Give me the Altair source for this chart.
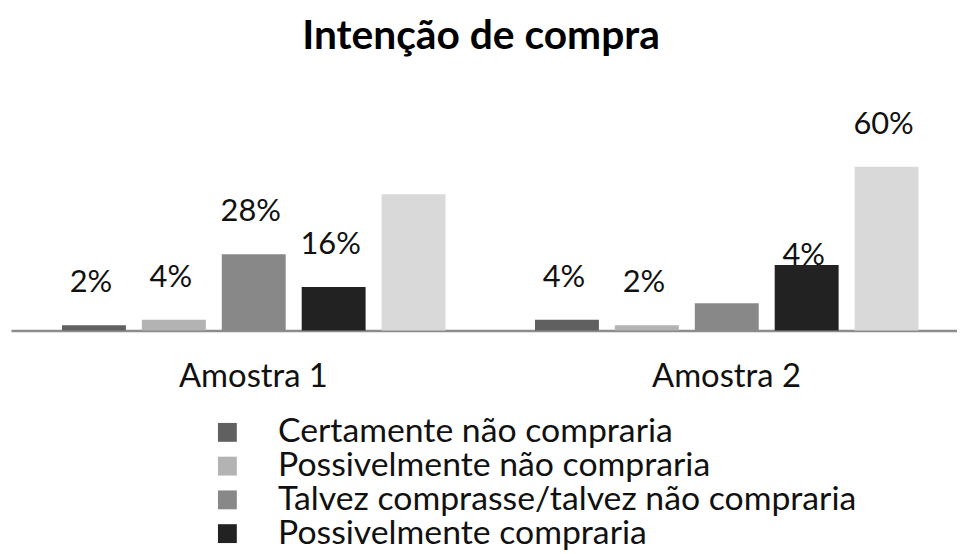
import altair as alt
import pandas as pd

# ---- data ----
samples = ["Amostra 1", "Amostra 2"]
series = [
    "Certamente não compraria",
    "Possivelmente não compraria",
    "Talvez comprasse/talvez não compraria",
    "Possivelmente compraria",
    "Certamente compraria",
]
values_a1 = [2, 4, 28, 16, 50]
values_a2 = [4, 2, 10, 24, 60]
labels_a1 = ["2%", "4%", "28%", "16%", ""]
labels_a2 = ["4%", "2%", "", "4%", "60%"]
legend_shown = series[:4]

# ---- styling ----
colors = ["#606060", "#b3b3b3", "#888888", "#222222", "#d9d9d9"]
FONT = "Lato"
INLINE_LABEL = ("Amostra 2", "Possivelmente compraria")  # label sits on the bar top

rows = []
for s, vals, labs in [(samples[0], values_a1, labels_a1), (samples[1], values_a2, labels_a2)]:
    for ser, v, lab in zip(series, vals, labs):
        rows.append({"amostra": s, "serie": ser, "valor": v, "rotulo": lab})
df = pd.DataFrame(rows)

x_enc = alt.X(
    "amostra:N",
    sort=samples,
    scale=alt.Scale(paddingInner=0, paddingOuter=0),
    axis=alt.Axis(
        title=None, ticks=False, tickSize=0, labelAngle=0,
        labelFont=FONT, labelFontSize=33, labelColor="#111111",
        labelBaseline="alphabetic", labelPadding=56, labelOffset=6,
        domainColor="#8c8c8c", domainWidth=2.5,
    ),
)
xoff_enc = alt.XOffset(
    "serie:N", sort=series,
    scale=alt.Scale(paddingInner=0.2, paddingOuter=0.56, align=0.57),
)
y_enc = alt.Y("valor:Q", scale=alt.Scale(domain=[0, 70]), axis=None)

base = alt.Chart(df)

bars = base.mark_bar().encode(
    x=x_enc,
    xOffset=xoff_enc,
    y=y_enc,
    color=alt.Color(
        "serie:N", sort=series,
        scale=alt.Scale(domain=series, range=colors),
        legend=alt.Legend(
            values=legend_shown, title=None, orient="none",
            legendX=201, legendY=278, direction="vertical",
            symbolType="square", symbolSize=361, symbolStrokeWidth=0,
            labelFont=FONT, labelFontSize=34, labelColor="#111111",
            labelOffset=34, rowPadding=-1, padding=0,
            labelLimit=800,
        ),
    ),
)

cond = (alt.datum.amostra == INLINE_LABEL[0]) & (alt.datum.serie == INLINE_LABEL[1])

text_above = base.mark_text(
    dy=-33, dx=-3, baseline="alphabetic", font=FONT, fontSize=31, color="#111111"
).encode(x=x_enc, xOffset=xoff_enc, y=y_enc, text="rotulo:N").transform_filter(~cond)

text_inline = base.mark_text(
    dy=0, dx=-3, baseline="alphabetic", font=FONT, fontSize=31, color="#111111"
).encode(x=x_enc, xOffset=xoff_enc, y=y_enc, text="rotulo:N").transform_filter(cond)

chart = (
    alt.layer(bars, text_above, text_inline)
    .properties(
        width=953,
        height=192.5,
        title=alt.TitleParams(
            "Intenção de compra", font=FONT, fontSize=41, fontWeight="bold",
            color="#000000", anchor="middle", frame="group",
            baseline="alphabetic", offset=20, dx=-3,
        ),
        autosize=alt.AutoSizeParams(type="none"),
        padding={"left": 3, "top": 130.5, "right": 0, "bottom": 219},
    )
    .configure_view(stroke=None)
)

chart.save("out.html", embed_options={"renderer": "svg", "actions": False})
